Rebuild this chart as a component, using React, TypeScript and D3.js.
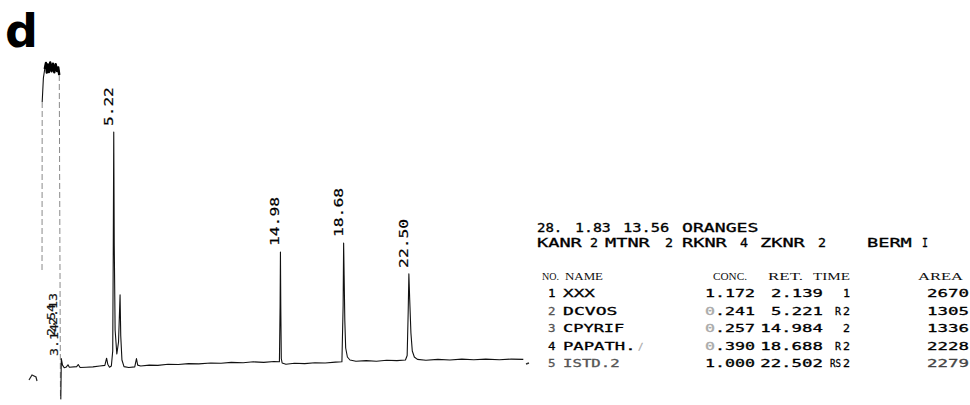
import React from "react";
import * as d3 from "d3";

// ---------- DATA ----------
// Chromatogram trace: [retention time (min), detector signal (arbitrary units)]
const tracePoints: [number, number][] = [
  [1.02, 32], [1.03, 88], [1.10, 96], [1.18, 99], [1.25, 101], [1.30, 97.8], [1.36, 100.5],
  [1.42, 98], [1.50, 101.2], [1.58, 98.2], [1.66, 100.8], [1.74, 97.9], [1.82, 100.6],
  [1.90, 98.3], [1.97, 99.5], [2.03, 97], [2.10, -11], [2.12, -11], [2.15, 2.5], [2.22, 0.3],
  [2.32, -0.6], [2.45, -0.3], [2.54, 0.4], [2.62, -0.4], [3.05, -0.2], [3.14, 0.5], [3.25, -0.5],
  [3.60, -0.4], [4.00, -0.3], [4.40, 0], [4.70, 0.2], [4.80, 2.6], [4.87, 0.6], [4.97, -0.4],
  [5.08, 0], [5.16, 5], [5.19, 37], [5.22, 78], [5.25, 40], [5.30, 12], [5.40, 4], [5.50, 8],
  [5.59, 23.7], [5.63, 10], [5.70, 2], [5.82, -0.2], [6.10, -0.5], [6.45, -0.3], [6.55, 2.5],
  [6.62, 0.3], [6.80, 0], [7.30, 0.3], [7.80, 0.2], [8.40, 0.6], [9.00, 0.5], [9.60, 0.8],
  [10.20, 0.7], [10.90, 1.0], [11.50, 0.9], [12.10, 1.2], [12.80, 1.1], [13.40, 1.4], [14.00, 1.2],
  [14.60, 1.5], [14.92, 1.4], [14.96, 20], [14.98, 38], [15.00, 20], [15.03, 2.5], [15.08, 1.0],
  [15.30, 0.6], [15.80, 0.9], [16.40, 0.8], [17.00, 1.1], [17.60, 1.0], [18.20, 1.3], [18.58, 1.4],
  [18.65, 20], [18.68, 41], [18.71, 30], [18.75, 15], [18.80, 6], [18.90, 3], [19.05, 2],
  [19.40, 1.6], [20.00, 1.8], [20.60, 1.6], [21.20, 1.9], [21.80, 1.8], [22.30, 2.0], [22.40, 3.5],
  [22.46, 18], [22.50, 30.7], [22.55, 22], [22.62, 11], [22.70, 5], [22.82, 3], [23.00, 2.2],
  [23.50, 1.9], [24.20, 2.2], [24.90, 2.0], [25.60, 2.3], [26.30, 2.1], [27.00, 2.3], [27.80, 2.1],
  [28.50, 2.3], [29.20, 2.2],
];

const peakLabels = ["5.22", "14.98", "18.68", "22.50"];
const peakTimes = [5.22, 14.98, 18.68, 22.5];
const peakApex = [78, 38, 41, 30.7];

const solventLabels = ["2.13", "2.54", "3.14"];

const headerLine1 = ["28.", "1.83", "13.56", "ORANGES"];
const headerLine2 = ["KANR", "2", "MTNR", "2", "RKNR", "4", "ZKNR", "2", "BERM", "I"];
const columnHeads = ["NO.", "NAME", "CONC.", "RET.", "TIME", "AREA"];

const rowNo = ["1", "2", "3", "4", "5"];
const rowName = ["XXX", "DCVOS", "CPYRIF", "PAPATH.", "ISTD.2"];
const rowConc = ["1.172", "0.241", "0.257", "0.390", "1.000"];
const rowRetTime = ["2.139", "5.221", "14.984", "18.688", "22.502"];
const rowFlagCode = ["", "R", "", "R", "RS"];
const rowFlagNum = ["1", "2", "2", "2", "2"];
const rowArea = ["2670", "1305", "1336", "2228", "2279"];

// ---------- LAYOUT ----------
const W = 970;
const H = 405;
const x = d3.scaleLinear().domain([0, 29.2]).range([24.6, 523.3]);
const y = d3.scaleLinear().domain([0, 100]).range([366, 66]);

const MONO = "'DejaVu Sans Mono', monospace";
const SERIF = "'Liberation Serif', 'Times New Roman', serif";

const head1X = [537, 575, 623, 682];
const head2X = [537, 590, 605, 665, 682, 740, 760, 818, 867, 922];
const colHeadX = [542, 565, 713, 768, 813, 918];
const colHeadW = [17, 38, 34, 35, 37, 45];

// printed width of a token: chars on a pitch, dots and "I" print narrow
function tw(s: string, pitch: number, narrow = true) {
  let n = 0;
  for (const ch of s) n += narrow && (ch === "." || ch === "I") ? 0.6 : 1;
  return Math.max(5, n * pitch - 2);
}

function PT({ x: px, y: py, text, size = 11, width, anchor = "start", fill = "#000", children }: any) {
  return (
    <text
      x={px}
      y={py}
      fontFamily={MONO}
      fontSize={size}
      textAnchor={anchor}
      textLength={width}
      lengthAdjust="spacingAndGlyphs"
      fill={fill}
      stroke={fill}
      strokeWidth={0.3}
    >
      {children ?? text}
    </text>
  );
}

export default function App() {
  const pts = tracePoints.map(([t, s]) => [x(t), y(s)] as [number, number]);
  const runs: { pts: [number, number][]; faint: boolean }[] = [];
  for (let i = 1; i < pts.length; i++) {
    const a = pts[i - 1];
    const b = pts[i];
    const faint = Math.abs(b[1] - a[1]) > 150;
    const last = runs[runs.length - 1];
    if (last && last.faint === faint) last.pts.push(b);
    else runs.push({ pts: [a, b], faint });
  }
  const line = d3.line<[number, number]>();
  // saturated detector region (signal above full scale) prints heavier
  const saturated = tracePoints.filter(([, s]) => s > 96).map(([t, s]) => [x(t), y(s)] as [number, number]);

  const rowY = (i: number) => 297 + i * 17.5;

  return (
    <svg
      width={W}
      height={H}
      viewBox={`0 0 ${W} ${H}`}
      style={{ position: "absolute", left: 0, top: 0, background: "#fff" }}
    >
      <rect width={W} height={H} fill="#fff" />
      {/* panel letter */}
      <text x={5} y={47} fontFamily="'DejaVu Sans', sans-serif" fontWeight="bold" fontSize={46} fill="#000">
        d
      </text>

      {/* trace */}
      {runs.map((r, i) => (
        <path
          key={i}
          d={line(r.pts) || ""}
          fill="none"
          stroke={r.faint ? "#8a8a8a" : "#111"}
          strokeWidth={r.faint ? 1 : 1.1}
          strokeDasharray={r.faint ? "6 3" : undefined}
          strokeLinejoin="round"
        />
      ))}
      <path d={line(saturated) || ""} fill="none" stroke="#000" strokeWidth={2.4} strokeLinejoin="round" />

      {/* pen start mark */}
      <path d="M29,380 L32,375 L36,377 L37,381" fill="none" stroke="#222" strokeWidth={1.2} />

      {/* peak labels */}
      {peakLabels.map((lab, i) => (
        <text
          key={lab}
          transform={`translate(${x(peakTimes[i]) - 1},${y(peakApex[i]) - 6}) rotate(-90)`}
          fontFamily={MONO}
          fontSize={12.5}
          textLength={tw(lab, 10.2, false)}
          lengthAdjust="spacingAndGlyphs"
          fill="#000"
          stroke="#000"
          strokeWidth={0.2}
        >
          {lab}
        </text>
      ))}

      {/* solvent region labels (overlapping) */}
      {solventLabels.map((lab, i) => {
        const dx = [-4, -6, -3][i];
        const by = [325, 336, 356][i];
        return (
          <text
            key={lab}
            transform={`translate(${x(2.13) + dx},${by}) rotate(-90)`}
            fontFamily={MONO}
            fontSize={10.5}
            textLength={32}
            lengthAdjust="spacingAndGlyphs"
            fill="#111"
            stroke="#111"
            strokeWidth={0.2}
          >
            {lab}
          </text>
        );
      })}

      {/* report header */}
      {headerLine1.map((t, i) => (
        <PT key={"h1" + i} x={head1X[i]} y={232} text={t} size={12.5} width={tw(t, /\d/.test(t) ? 10.5 : 11.2)} />
      ))}
      {headerLine2.map((t, i) => (
        <PT
          key={"h2" + i}
          x={head2X[i]}
          y={247}
          text={t}
          size={12.5}
          width={t === "I" ? 6 : t.length === 1 ? 8 : tw(t, 11.7)}
        />
      ))}

      {columnHeads.map((t, i) => (
        <text
          key={"ch" + i}
          x={colHeadX[i]}
          y={280}
          fontFamily={SERIF}
          fontSize={11}
          textLength={colHeadW[i]}
          lengthAdjust="spacingAndGlyphs"
          fill="#111"
        >
          {t}
        </text>
      ))}

      {/* table rows */}
      {rowNo.map((n, i) => {
        const yy = rowY(i);
        const conc = rowConc[i];
        const faintZero = conc.startsWith("0");
        return (
          <g key={"r" + i}>
            <PT x={548} y={yy} text={n} width={7.5} fill={i === 0 || i === 3 ? "#000" : "#555"} />
            <PT x={563} y={yy} text={rowName[i]} width={tw(rowName[i], 11.3)} fill={i === 4 ? "#555" : "#000"} />
            {i === 3 && <PT x={638} y={yy} text="/" fill="#aaa" size={9} />}
            <PT x={705} y={yy} width={tw(conc, 10.4, false)}>
              {faintZero ? (
                <>
                  <tspan fill="#aaa" stroke="#aaa">0</tspan>
                  {conc.slice(1)}
                </>
              ) : (
                conc
              )}
            </PT>
            <PT x={823} y={yy} text={rowRetTime[i]} anchor="end" width={tw(rowRetTime[i], 10.8, false)} />
            {rowFlagCode[i] && (
              <PT x={841} y={yy} text={rowFlagCode[i]} anchor="end" width={rowFlagCode[i].length * 5 + 1} />
            )}
            <PT x={850} y={yy} text={rowFlagNum[i]} anchor="end" width={7} />
            <PT
              x={969}
              y={yy}
              text={rowArea[i]}
              anchor="end"
              width={tw(rowArea[i], 11, false)}
              fill={i === 4 ? "#444" : "#000"}
            />
          </g>
        );
      })}
      <path d="M526,364 L529,363" stroke="#333" strokeWidth={1.4} />
    </svg>
  );
}
